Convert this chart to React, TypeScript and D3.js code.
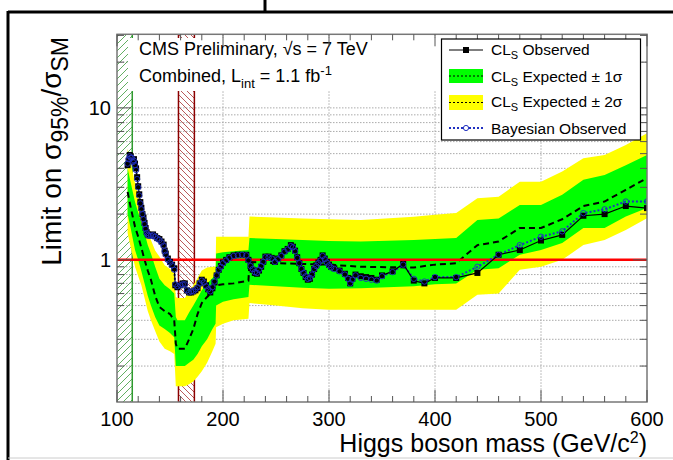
import React from "react";
import * as d3 from "d3";

// observed CLs limit (and bayesian)
const obsMass = [
  110, 111, 112, 113, 114, 115, 116, 117, 118, 119, 120, 121, 122, 123, 124, 125, 126, 127, 128, 129, 130,
  132, 134, 136, 138, 140, 142, 144,
  145, 146, 148, 150, 152, 154, 155, 157,
  160, 162, 164, 166, 168, 170, 172, 174, 176, 178, 180, 182, 184, 186, 188, 190, 192, 194, 196, 198, 200,
  203, 206, 210, 214, 218, 222, 224, 226, 228, 230, 232, 234, 236, 238, 240,
  243, 246, 249, 252, 255, 258, 261, 264, 266, 268, 270, 272, 274, 276, 278, 280, 282, 284, 286, 288, 290, 292, 294, 296, 298, 300,
  302, 305, 310, 315, 318, 320, 322, 325, 330, 335, 340, 345, 350, 360, 370, 380, 390, 400, 420, 440, 460, 480, 500, 520, 540, 560, 580, 600,
];
const obsLimit = [
  4.2, 4.5, 4.9, 4.8, 4.6, 4.5, 4.6, 4.3, 4.0, 3.5, 3.05, 2.7, 2.4, 2.2, 2.0, 1.9, 1.75, 1.62, 1.52, 1.47, 1.45,
  1.45, 1.47, 1.43, 1.39, 1.37, 1.32, 1.26,
  1.15, 1.1, 1.02, 0.97, 0.93, 0.88, 0.68, 0.66,
  0.68, 0.7, 0.7, 0.63, 0.61, 0.61, 0.62, 0.63, 0.65, 0.7, 0.74, 0.72, 0.68, 0.64, 0.61, 0.65, 0.71, 0.79, 0.86, 0.91, 0.96,
  1.0, 1.04, 1.07, 1.08, 1.08, 1.08, 1.0, 0.91, 0.86, 0.82, 0.81, 0.85, 0.9, 0.97, 1.05,
  1.05, 1.03, 0.97, 1.02, 1.07, 1.14, 1.18, 1.25, 1.22, 1.15, 1.04, 0.95, 0.87, 0.82, 0.77, 0.74, 0.75, 0.8, 0.87, 0.92, 0.96, 1.0, 1.07, 1.02, 0.97, 0.93,
  0.9, 0.88, 0.85, 0.81, 0.76, 0.7, 0.75, 0.8, 0.78, 0.77, 0.76, 0.74, 0.79, 0.84, 0.94, 0.73, 0.7, 0.76, 0.76, 0.82, 1.08, 1.16, 1.34, 1.46, 1.95, 2.0, 2.26, 2.19,
];
const bayesLimit = [
  4.3, 4.6, 4.8, 4.7, 4.7, 4.4, 4.5, 4.2, 3.9, 3.4, 3.0, 2.65, 2.35, 2.15, 2.0, 1.85, 1.72, 1.6, 1.5, 1.46, 1.44,
  1.44, 1.45, 1.42, 1.38, 1.35, 1.3, 1.24,
  1.14, 1.08, 1.0, 0.96, 0.92, 0.86, 0.69, 0.67,
  0.68, 0.69, 0.69, 0.63, 0.61, 0.62, 0.62, 0.64, 0.66, 0.7, 0.73, 0.71, 0.67, 0.64, 0.62, 0.66, 0.72, 0.79, 0.86, 0.9, 0.95,
  0.99, 1.03, 1.06, 1.07, 1.08, 1.07, 0.99, 0.91, 0.87, 0.83, 0.82, 0.86, 0.91, 0.97, 1.04,
  1.04, 1.02, 0.97, 1.01, 1.06, 1.13, 1.17, 1.23, 1.21, 1.14, 1.03, 0.95, 0.87, 0.82, 0.78, 0.75, 0.76, 0.8, 0.87, 0.91, 0.95, 0.99, 1.06, 1.01, 0.96, 0.92,
  0.89, 0.87, 0.84, 0.8, 0.75, 0.7, 0.74, 0.79, 0.76, 0.75, 0.74, 0.73, 0.78, 0.83, 0.93, 0.75, 0.72, 0.77, 0.77, 0.9, 1.08, 1.25, 1.42, 1.54, 2.03, 2.15, 2.42, 2.42,
];

// expected limit with bands
const bandMass = [110, 113, 117, 120, 123, 126, 129, 132, 136, 140, 145, 150, 154, 155.5, 157, 164, 168, 172, 176, 180, 185, 190, 193, 193.5, 200, 210, 224, 225, 250, 275, 300, 330, 380, 400, 420, 440, 460, 480, 500, 520, 540, 560, 580, 600];
const expMedian = [2.8, 2.2, 1.65, 1.42, 1.2, 1.0, 0.85, 0.74, 0.58, 0.49, 0.46, 0.44, 0.4, 0.28, 0.26, 0.26, 0.3, 0.35, 0.44, 0.52, 0.57, 0.62, 0.67, 0.68, 0.69, 0.7, 0.73, 0.97, 0.95, 0.94, 0.93, 0.9, 0.89, 0.93, 0.95, 1.25, 1.32, 1.62, 1.62, 1.85, 2.26, 2.42, 2.89, 3.45];
const expMinus2 = [1.5, 1.2, 0.9, 0.78, 0.68, 0.56, 0.46, 0.4, 0.34, 0.29, 0.26, 0.25, 0.24, 0.147, 0.147, 0.147, 0.152, 0.158, 0.17, 0.185, 0.21, 0.25, 0.28, 0.36, 0.38, 0.4, 0.41, 0.52, 0.5, 0.48, 0.47, 0.47, 0.47, 0.47, 0.47, 0.59, 0.6, 0.86, 0.9, 1.0, 1.25, 1.35, 1.57, 1.88];
const expMinus1 = [2.0, 1.6, 1.16, 1.0, 0.84, 0.7, 0.58, 0.5, 0.42, 0.37, 0.35, 0.33, 0.31, 0.2, 0.2, 0.2, 0.21, 0.22, 0.24, 0.27, 0.3, 0.35, 0.38, 0.5, 0.53, 0.55, 0.57, 0.685, 0.67, 0.655, 0.645, 0.65, 0.67, 0.69, 0.7, 0.86, 0.88, 1.08, 1.16, 1.29, 1.62, 1.62, 1.93, 2.19];
const expPlus1 = [4.0, 3.2, 2.4, 2.05, 1.75, 1.5, 1.25, 1.1, 0.9, 0.75, 0.68, 0.64, 0.6, 0.42, 0.4, 0.4, 0.45, 0.5, 0.56, 0.63, 0.7, 0.76, 0.8, 1.1, 1.12, 1.14, 1.16, 1.39, 1.37, 1.35, 1.33, 1.32, 1.35, 1.37, 1.39, 1.83, 1.87, 2.3, 2.3, 2.68, 3.36, 3.62, 4.2, 4.9];
const expPlus2 = [5.4, 4.3, 3.2, 2.7, 2.1, 1.8, 1.5, 1.35, 1.15, 1.05, 0.92, 0.87, 0.82, 0.57, 0.56, 0.56, 0.62, 0.68, 0.76, 0.85, 0.89, 0.9, 0.9, 1.42, 1.42, 1.42, 1.42, 1.93, 1.9, 1.87, 1.85, 1.83, 1.92, 1.98, 2.03, 2.54, 2.6, 3.27, 3.27, 3.81, 4.66, 4.9, 5.7, 6.8];

// excluded regions (LEP, Tevatron)
const lepExcl = [100, 114.4];
const tevExcl = [158, 173];

// axes
const xLabels = [100, 200, 300, 400, 500, 600];
const xMinor = d3.range(100, 601, 20);
const yLabels = [1, 10];
const yMinor = [0.2, 0.3, 0.4, 0.5, 0.6, 0.7, 0.8, 0.9, 2, 3, 4, 5, 6, 7, 8, 9, 20, 30];

const FONT = "'Liberation Sans', Arial, Helvetica, sans-serif";
const GREEN = "#00ff00";
const YELLOW = "#ffff00";
const BLUE = "#2030c0";

const App: React.FC = () => {
  const m = { left: 117, right: 647, top: 34.3, bottom: 402 };
  const x = d3.scaleLinear().domain([100, 600]).range([m.left, m.right]);
  const y = d3.scaleLog().domain([0.116, 30.5]).range([m.bottom, m.top]);

  const band = (lo: number[], hi: number[]) =>
    d3
      .area<number>()
      .x((d) => x(d))
      .y0((_, i) => y(lo[i]))
      .y1((_, i) => y(hi[i]))(bandMass) || "";

  const line = (xs: number[], ys: number[]) =>
    d3
      .line<number>()
      .x((d) => x(d))
      .y((_, i) => y(ys[i]))(xs) || "";

  const gridY = [...yMinor.filter((v) => v < 25), ...yLabels];

  return (
    <svg width={673} height={460} style={{ position: "absolute", left: 0, top: 0 }} fontFamily={FONT}>
      <defs>
        <pattern id="hatchG" patternUnits="userSpaceOnUse" width={7} height={7}>
          <path d="M-1,1 l2,-2 M0,7 l7,-7 M6,8 l2,-2" stroke="#3a9a3a" strokeWidth={0.8} />
        </pattern>
        <pattern id="hatchR" patternUnits="userSpaceOnUse" width={6} height={6}>
          <path d="M-1,5 l2,2 M0,0 l6,6 M5,-1 l2,2" stroke="#a83030" strokeWidth={0.8} />
        </pattern>
        <clipPath id="plotClip">
          <rect x={m.left} y={m.top} width={m.right - m.left} height={m.bottom - m.top} />
        </clipPath>
      </defs>

      <rect width={673} height={460} fill="#fff" />

      {/* page border */}
      <line x1={8} x2={673} y1={12} y2={12} stroke="#000" strokeWidth={3} />
      <line x1={8} x2={8} y1={11} y2={460} stroke="#000" strokeWidth={3} />
      <line x1={265} x2={265} y1={0} y2={12} stroke="#000" strokeWidth={3} />
      <line x1={8} x2={673} y1={458} y2={458} stroke="#ccc" strokeWidth={1} />

      {/* grid */}
      <g stroke="#aaa" strokeWidth={1} strokeDasharray="1.5,1.5">
        {xLabels.slice(1, -1).map((v) => (
          <line key={"gx" + v} x1={x(v)} x2={x(v)} y1={m.top} y2={m.bottom} />
        ))}
        {gridY.map((v) => (
          <line key={"gy" + v} x1={m.left} x2={m.right} y1={y(v)} y2={y(v)} />
        ))}
      </g>

      {/* excluded regions */}
      <rect x={x(lepExcl[0])} y={m.top} width={x(lepExcl[1]) - x(lepExcl[0])} height={m.bottom - m.top} fill="url(#hatchG)" />
      <line x1={x(lepExcl[1])} x2={x(lepExcl[1])} y1={m.top} y2={m.bottom} stroke="#2f9a2f" strokeWidth={1.5} />
      <rect x={x(tevExcl[0])} y={m.top} width={x(tevExcl[1]) - x(tevExcl[0])} height={m.bottom - m.top} fill="url(#hatchR)" />
      <line x1={x(tevExcl[0])} x2={x(tevExcl[0])} y1={m.top} y2={m.bottom} stroke="#8b0000" strokeWidth={1.5} />
      <line x1={x(tevExcl[1])} x2={x(tevExcl[1])} y1={m.top} y2={m.bottom} stroke="#8b0000" strokeWidth={1.5} />

      <g clipPath="url(#plotClip)">
        <path d={band(expMinus2, expPlus2)} fill={YELLOW} />
        <path d={band(expMinus1, expPlus1)} fill={GREEN} />
        <path d={line(bandMass, expMedian)} fill="none" stroke="#000" strokeWidth={2} strokeDasharray="6,4" />
        <line x1={m.left} x2={m.right} y1={y(1)} y2={y(1)} stroke="#ff0000" strokeWidth={2.5} />

        <path d={line(obsMass, bayesLimit)} fill="none" stroke={BLUE} strokeWidth={2} strokeDasharray="2,2" />
        <path d={line(obsMass, obsLimit)} fill="none" stroke="#000" strokeWidth={1.2} />
        {obsMass.map((d, i) => (
          <rect key={"o" + i} x={x(d) - 3} y={y(obsLimit[i]) - 3} width={6} height={6} fill="#000" />
        ))}
        {obsMass.map((d, i) => (
          <circle key={"b" + i} cx={x(d)} cy={y(bayesLimit[i])} r={2.7} fill="none" stroke={BLUE} strokeWidth={0.9} />
        ))}
      </g>

      {/* text box */}
      <rect x={128} y={38} width={313} height={53} fill="#fff" />
      <text x={139} y={55} fontSize={18}>
        CMS Preliminary, √s = 7 TeV
      </text>
      <text x={139} y={82} fontSize={18}>
        Combined, L
        <tspan dy={6} fontSize={13}>int</tspan>
        <tspan dy={-6}> = 1.1 fb</tspan>
        <tspan dy={-7} fontSize={13}>-1</tspan>
      </text>

      {/* frame and ticks */}
      <rect x={m.left} y={m.top} width={m.right - m.left} height={m.bottom - m.top} fill="none" stroke="#777" strokeWidth={1.5} />
      <g stroke="#555" strokeWidth={1}>
        {xMinor.map((v) => {
          const len = xLabels.includes(v) ? 12 : 6;
          return (
            <g key={"tx" + v}>
              <line x1={x(v)} x2={x(v)} y1={m.bottom} y2={m.bottom - len} />
              <line x1={x(v)} x2={x(v)} y1={m.top} y2={m.top + len} />
            </g>
          );
        })}
        {[...yMinor, ...yLabels].map((v) => {
          const len = yLabels.includes(v) ? 14 : 7;
          return (
            <g key={"ty" + v}>
              <line x1={m.left} x2={m.left + len} y1={y(v)} y2={y(v)} />
              <line x1={m.right} x2={m.right - len} y1={y(v)} y2={y(v)} />
            </g>
          );
        })}
      </g>

      {xLabels.map((v) => (
        <text key={"lx" + v} x={x(v)} y={426} fontSize={20} textAnchor="middle">
          {v}
        </text>
      ))}
      {yLabels.map((v) => (
        <text key={"ly" + v} x={111} y={y(v) + 7} fontSize={20} textAnchor="end">
          {v}
        </text>
      ))}

      <text x={m.right} y={452} fontSize={25} textAnchor="end">
        Higgs boson mass (GeV/c<tspan dy={-9} fontSize={16}>2</tspan>
        <tspan dy={9}>)</tspan>
      </text>
      <text transform="translate(61,37) rotate(-90)" fontSize={28} textAnchor="end">
        Limit on σ<tspan dy={7} fontSize={23}>95%</tspan>
        <tspan dy={-7}>/σ</tspan>
        <tspan dy={7} fontSize={23}>SM</tspan>
      </text>

      {/* legend */}
      <rect x={441.5} y={39} width={199} height={101} fill="#fff" stroke="#000" strokeWidth={1.2} />
      <line x1={449} x2={483} y1={50} y2={50} stroke="#000" strokeWidth={1.2} />
      <rect x={463} y={47} width={6} height={6} fill="#000" />
      <rect x={449} y={69} width={34} height={14} fill={GREEN} />
      <line x1={449} x2={483} y1={76} y2={76} stroke="#000" strokeDasharray="2,2" />
      <rect x={449} y={95} width={34} height={15} fill={YELLOW} />
      <line x1={449} x2={483} y1={102.5} y2={102.5} stroke="#000" strokeDasharray="2,2" />
      <line x1={449} x2={483} y1={128} y2={128} stroke={BLUE} strokeWidth={2} strokeDasharray="2,2" />
      <circle cx={466} cy={128} r={2.6} fill="#fff" stroke={BLUE} />
      <g fontSize={15.5}>
        <text x={491} y={55}>
          CL<tspan dy={4} fontSize={11}>S</tspan>
          <tspan dy={-4}> Observed</tspan>
        </text>
        <text x={491} y={82}>
          CL<tspan dy={4} fontSize={11}>S</tspan>
          <tspan dy={-4}> Expected ± 1σ</tspan>
        </text>
        <text x={491} y={107}>
          CL<tspan dy={4} fontSize={11}>S</tspan>
          <tspan dy={-4}> Expected ± 2σ</tspan>
        </text>
        <text x={491} y={134}>Bayesian Observed</text>
      </g>
    </svg>
  );
};

export default App;
